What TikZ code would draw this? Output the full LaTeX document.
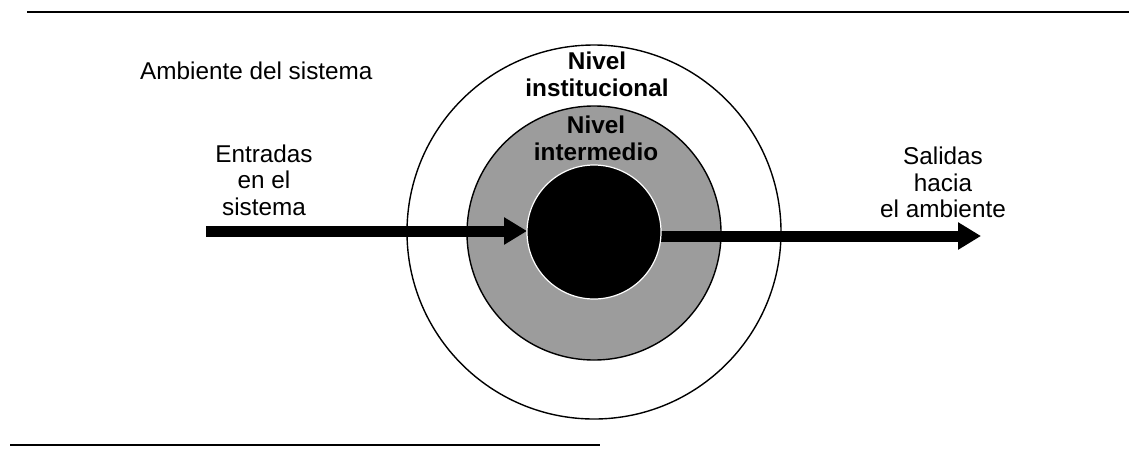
\documentclass[tikz,border=0pt]{standalone}
\usepackage{fontspec}
\setmainfont{Liberation Sans}
\usetikzlibrary{arrows.meta}
\definecolor{ringgray}{HTML}{9C9C9C}
\tikzset{
  lbl/.style={font=\fontsize{24.3pt}{26.5pt}\selectfont, inner sep=0pt, align=center},
  blbl/.style={font=\fontsize{24.3pt}{27.5pt}\selectfont\bfseries, inner sep=0pt, align=center},
  ring/.style={circle, inner sep=0pt, outer sep=0pt},
  flow/.style={line width=11pt, -{Triangle[length=23pt,width=26pt]}},
  rule/.style={line width=2.6pt}
}
\begin{document}
\begin{tikzpicture}[x=1pt,y=-1pt]
\useasboundingbox (0,0) rectangle (1129,448);
% rules
\coordinate (tl) at (27,12);
\coordinate (tr) at (1129,12);
\coordinate (bl) at (10,445);
\coordinate (br) at (600,445);
\draw[rule] (tl) -- (tr);
\draw[rule] (bl) -- (br);
% circles
\node[ring, draw=black, line width=1.4pt, minimum size=374pt] (outer) at (594,232) {};
\node[ring, draw=black, fill=ringgray, line width=1.4pt, minimum size=254pt] (mid) at (594,233) {};
% arrows
\coordinate (in) at (206,231);
\coordinate (out) at (981,236);
\node[ring, minimum size=134pt] (coreref) at (594,232) {};
\draw[flow] (in) -- (coreref.west |- in);
\draw[flow] (coreref.east |- out) -- (out);
\node[ring, fill=black, draw=white, line width=1.2pt, minimum size=134pt] (core) at (594,232) {};
% labels
\node[lbl, anchor=base west] (amb) at (140,79) {Ambiente del sistema};
\node[lbl, anchor=north] (entr) at (264,144.5) {Entradas\\en el\\sistema};
\node[lbl, anchor=north] (sal) at (943,147) {Salidas\\hacia\\el ambiente};
\node[blbl, anchor=north] (inst) at (597,51.5) {Nivel\\institucional};
\node[blbl, anchor=north] (inter) at (596,115.5) {Nivel\\intermedio};
\end{tikzpicture}
\end{document}
